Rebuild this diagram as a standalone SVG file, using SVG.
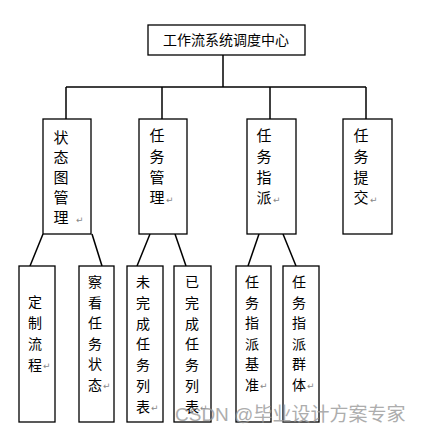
<svg xmlns="http://www.w3.org/2000/svg" width="422" height="437" viewBox="0 0 422 437">
<style>
.box{fill:#fff;stroke:#000;stroke-width:1.3}
.t{font-family:"Noto Sans CJK SC","Noto Sans CJK JP",sans-serif;fill:#000;text-anchor:middle}
.big{font-size:15px}
.sm{font-size:14px}
.ret{font-family:"DejaVu Sans",sans-serif;font-size:9px;fill:#888}
.ln{stroke:#000;stroke-width:1.5;fill:none}
.wm{font-family:"Liberation Sans","Noto Sans CJK SC",sans-serif;font-size:19px;fill:#999;opacity:0.8}
</style>
<rect width="422" height="437" fill="#fff"/>
<g id="connectors">
<line class="ln" x1="223" y1="55" x2="223" y2="87" stroke-width="2"/>
<line class="ln" x1="66" y1="87" x2="366" y2="87"/>
<line class="ln" x1="66" y1="87" x2="66" y2="119" stroke-width="2"/>
<line class="ln" x1="162" y1="87" x2="162" y2="119" stroke-width="2"/>
<line class="ln" x1="270" y1="87" x2="270" y2="119" stroke-width="2"/>
<line class="ln" x1="366" y1="87" x2="366" y2="119" stroke-width="2"/>
<line class="ln" x1="43" y1="234" x2="30" y2="266"/>
<line class="ln" x1="92" y1="234" x2="102" y2="266"/>
<line class="ln" x1="150" y1="234" x2="137" y2="266"/>
<line class="ln" x1="175" y1="234" x2="186" y2="266"/>
<line class="ln" x1="259" y1="234" x2="248" y2="266"/>
<line class="ln" x1="283" y1="234" x2="296" y2="266"/>
</g>
<g id="root">
<rect class="box" x="148" y="25" width="157" height="30"/>
<text class="t sm" x="226" y="45">工作流系统调度中心</text>
</g>
<g id="n1">
<rect class="box" x="43" y="119" width="48" height="115"/>
<text class="t big"><tspan x="61" y="143">状</tspan><tspan x="61" y="163">态</tspan><tspan x="61" y="183">图</tspan><tspan x="61" y="203">管</tspan><tspan x="61" y="223">理</tspan></text>
<text class="ret" x="76" y="223">↵</text>
</g>
<g id="n2">
<rect class="box" x="139" y="119" width="48" height="115"/>
<text class="t big"><tspan x="157" y="141">任</tspan><tspan x="157" y="162">务</tspan><tspan x="157" y="183">管</tspan><tspan x="157" y="203">理</tspan></text>
<text class="ret" x="166" y="203">↵</text>
</g>
<g id="n3">
<rect class="box" x="247" y="119" width="49" height="115"/>
<text class="t big"><tspan x="264" y="141">任</tspan><tspan x="264" y="162">务</tspan><tspan x="264" y="183">指</tspan><tspan x="264" y="203">派</tspan></text>
<text class="ret" x="273" y="203">↵</text>
</g>
<g id="n4">
<rect class="box" x="343" y="119" width="49" height="115"/>
<text class="t big"><tspan x="361" y="141">任</tspan><tspan x="361" y="162">务</tspan><tspan x="361" y="183">提</tspan><tspan x="361" y="203">交</tspan></text>
<text class="ret" x="370" y="203">↵</text>
</g>
<g id="n1a">
<rect class="box" x="19" y="266" width="36" height="156"/>
<text class="t sm"><tspan x="35" y="307">定</tspan><tspan x="35" y="328">制</tspan><tspan x="35" y="349">流</tspan><tspan x="35" y="370">程</tspan></text>
<text class="ret" x="43" y="369">↵</text>
</g>
<g id="n1b">
<rect class="box" x="79" y="266" width="35" height="156"/>
<text class="t sm"><tspan x="95" y="287">察</tspan><tspan x="95" y="308">看</tspan><tspan x="95" y="328">任</tspan><tspan x="95" y="349">务</tspan><tspan x="95" y="369">状</tspan><tspan x="95" y="390">态</tspan></text>
<text class="ret" x="103" y="389">↵</text>
</g>
<g id="n2a">
<rect class="box" x="127" y="266" width="36" height="156"/>
<text class="t sm"><tspan x="143" y="287">未</tspan><tspan x="143" y="308">完</tspan><tspan x="143" y="329">成</tspan><tspan x="143" y="349">任</tspan><tspan x="143" y="370">务</tspan><tspan x="143" y="391">列</tspan><tspan x="143" y="412">表</tspan></text>
<text class="ret" x="151" y="411">↵</text>
</g>
<g id="n2b">
<rect class="box" x="174" y="266" width="37" height="156"/>
<text class="t sm"><tspan x="192" y="287">已</tspan><tspan x="192" y="308">完</tspan><tspan x="192" y="329">成</tspan><tspan x="192" y="349">任</tspan><tspan x="192" y="370">务</tspan><tspan x="192" y="391">列</tspan><tspan x="192" y="412">表</tspan></text>
<text class="ret" x="200" y="411">↵</text>
</g>
<g id="n3a">
<rect class="box" x="236" y="266" width="35" height="156"/>
<text class="t sm"><tspan x="252" y="287">任</tspan><tspan x="252" y="308">务</tspan><tspan x="252" y="328">指</tspan><tspan x="252" y="349">派</tspan><tspan x="252" y="369">基</tspan><tspan x="252" y="390">准</tspan></text>
<text class="ret" x="260" y="389">↵</text>
</g>
<g id="n3b">
<rect class="box" x="283" y="266" width="36" height="156"/>
<text class="t sm"><tspan x="299" y="287">任</tspan><tspan x="299" y="308">务</tspan><tspan x="299" y="328">指</tspan><tspan x="299" y="349">派</tspan><tspan x="299" y="369">群</tspan><tspan x="299" y="390">体</tspan></text>
<text class="ret" x="307" y="389">↵</text>
</g>
<text class="wm" x="175" y="421">CSDN @毕业设计方案专家</text>
</svg>
